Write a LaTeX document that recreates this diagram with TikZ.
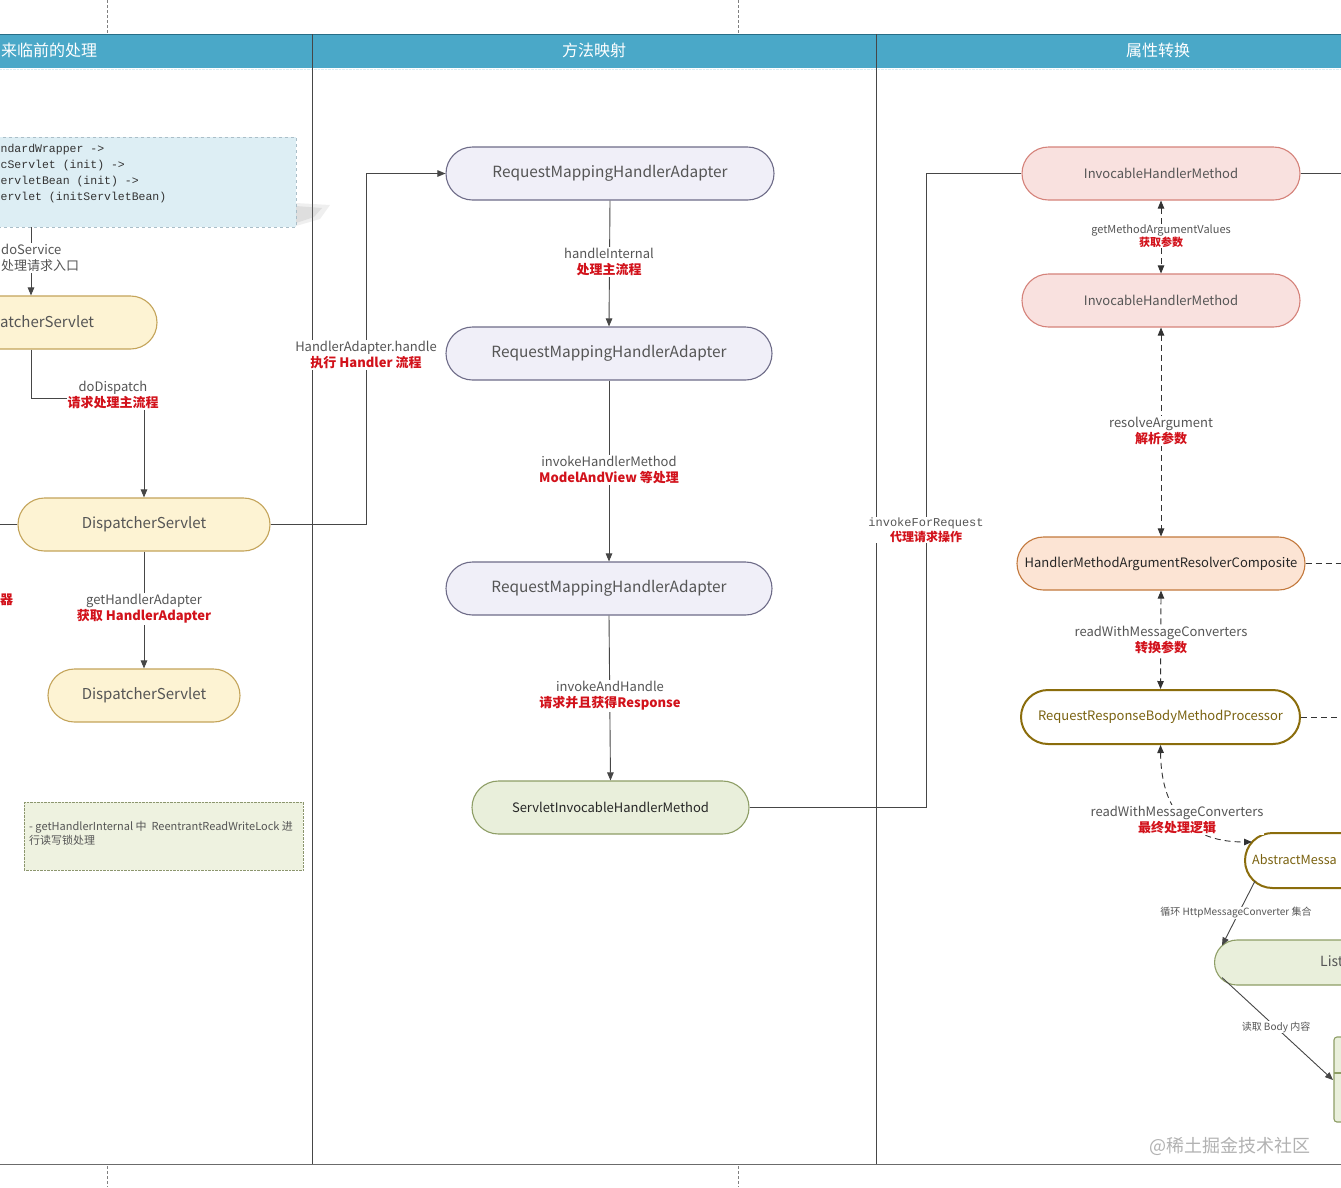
\documentclass[tikz,border=0pt]{standalone}
\usepackage{fontspec}
\setmainfont{Noto Sans CJK SC}
\setmonofont{Liberation Mono}
\usetikzlibrary{arrows.meta,calc}
\definecolor{hdr}{RGB}{74,168,200}
\definecolor{hdrline}{RGB}{40,110,135}
\definecolor{lanecol}{RGB}{70,70,70}
\definecolor{txtgray}{RGB}{85,85,85}
\definecolor{redlbl}{RGB}{210,18,27}
\definecolor{yfill}{RGB}{253,243,211}
\definecolor{ydraw}{RGB}{196,164,90}
\definecolor{lfill}{RGB}{240,239,248}
\definecolor{ldraw}{RGB}{110,108,136}
\definecolor{gfill}{RGB}{233,239,219}
\definecolor{gdraw}{RGB}{142,158,102}
\definecolor{pfill}{RGB}{249,225,223}
\definecolor{pdraw}{RGB}{213,130,122}
\definecolor{ofill}{RGB}{252,228,212}
\definecolor{odraw}{RGB}{195,121,61}
\definecolor{olive}{RGB}{139,109,12}
\definecolor{olivetxt}{RGB}{122,98,16}
\definecolor{codefill}{RGB}{221,238,244}
\definecolor{codedraw}{RGB}{170,190,200}
\definecolor{notefill}{RGB}{238,242,224}
\definecolor{notedraw}{RGB}{140,150,110}
\newcommand{\rl}[1]{{\color{redlbl}\bfseries #1}}
\tikzset{
  stad/.style={draw, line width=1.1pt, rounded corners=26.5, minimum height=53, inner sep=0pt,
    text=txtgray, font=\fontsize{15}{18}\selectfont},
  ynode/.style={stad, fill=yfill, draw=ydraw},
  lnode/.style={stad, fill=lfill, draw=ldraw, font=\fontsize{15.4}{18}\selectfont},
  gnode/.style={stad, fill=gfill, draw=gdraw, text=black!85, font=\fontsize{13}{16}\selectfont},
  pnode/.style={stad, fill=pfill, draw=pdraw, font=\fontsize{13}{16}\selectfont},
  onode/.style={stad, fill=ofill, draw=odraw, text=black!85, font=\fontsize{13}{16}\selectfont},
  rrnode/.style={stad, fill=white, draw=olive, line width=2pt, text=olivetxt, font=\fontsize{13}{16}\selectfont},
  conn/.style={draw=lanecol, line width=0.9pt},
  dconn/.style={draw=black!80, line width=0.9pt, dash pattern=on 6pt off 4pt},
  arr/.tip={Triangle[length=8pt,width=6.5pt]},
  lbl/.style={fill=white, inner sep=1pt, align=center, text=txtgray, font=\fontsize{13}{16}\selectfont},
  slbl/.style={fill=white, inner sep=1pt, align=center, text=txtgray, font=\fontsize{11}{13}\selectfont},
  tlbl/.style={fill=white, inner sep=1pt, align=center, text=txtgray, font=\fontsize{10}{12}\selectfont},
  hdrtxt/.style={text=white, font=\fontsize{16}{19}\selectfont, inner sep=0pt},
}
\begin{document}
\begin{tikzpicture}[x=1pt,y=-1pt]
\useasboundingbox (0,0) rectangle (1341,1187);
\clip (0,0) rectangle (1341,1187);
\fill[white] (0,0) rectangle (1341,1187);
% top / bottom dashed guides
\draw[gray, densely dashed] (107,0) -- (107,34) (738,0) -- (738,34);
\draw[gray, densely dashed] (107,1166) -- (107,1187) (738,1166) -- (738,1187);
% header band
\fill[hdr] (0,34) rectangle (1341,68);
\draw[hdrline, line width=0.8pt] (0,34) -- (1341,34);
\draw[white!80!hdr, densely dotted] (0,69) -- (1341,69);
\node[hdrtxt, anchor=west] (h1) at (1,50) {来临前的处理};
\node[hdrtxt] (h2) at (594,50) {方法映射};
\node[hdrtxt] (h3) at (1158,50) {属性转换};
% lane lines
\draw[lanecol, line width=0.9pt] (312,34) -- (312,1164) (876,34) -- (876,1164);
\draw[lanecol!80, line width=1pt] (0,1164) -- (1341,1164);

% ---------- lane 1 ----------
\fill[gray, opacity=0.12] (296,203) -- (330,205) -- (320,219) -- (296,226) -- cycle;
\fill[gray, opacity=0.15] (296,206) -- (322,208) -- (314,217) -- (296,223) -- cycle;
\node[draw=codedraw, fill=codefill, dashed, minimum width=310, minimum height=90, anchor=north east, inner sep=0pt] (code) at (296,137) {};
\node[anchor=west, align=left, inner sep=0pt, text=black!80, font=\ttfamily\fontsize{11.5}{16}\selectfont] (codetxt) at (0.5,174) {ndardWrapper ->\\cServlet (init) ->\\ervletBean (init) ->\\ervlet (initServletBean)};

\node[ynode, minimum width=252] (ds0) at (31,322.5) {};
\node[anchor=west, inner sep=0pt, text=txtgray, font=\fontsize{15}{18}\selectfont] (ds0t) at (0,321.5) {atcherServlet};
\node[ynode, minimum width=252] (ds1) at (144,524.5) {DispatcherServlet};
\node[ynode, minimum width=192] (ds2) at (144,695.5) {DispatcherServlet};

\draw[conn, -{arr}] (ds0.north |- code.south) -- (ds0.north);
\node[lbl, anchor=north west, align=left, inner sep=1pt] (l1) at (0,243) {doService\\处理请求入口};

\draw[conn, -{arr}] (ds0.south) -- (31,398) -| (ds1.north);
\node[lbl] (l2) at (113,395) {doDispatch\\\rl{请求处理主流程}};

\draw[conn] (ds1.west) -- ++(-30,0);
\node[lbl, fill=none, anchor=west, inner sep=0pt] (l3) at (0,600) {\rl{器}};

\draw[conn, -{arr}] (ds1.south) -- (ds2.north);
\node[lbl] (l4) at (144,609) {getHandlerAdapter\\\rl{获取 HandlerAdapter}};

\node[draw=notedraw, fill=notefill, densely dotted, minimum width=279, minimum height=68, anchor=north west, inner sep=0pt] (note) at (24,802) {};
\node[anchor=north west, align=left, inner sep=0pt, text=txtgray, font=\fontsize{11}{14}\selectfont] (notetxt) at (29,821) {- getHandlerInternal 中\ \ ReentrantReadWriteLock 进\\行读写锁处理};

% ---------- lane 2 ----------
\node[lnode, minimum width=328] (rm1) at (610,173.5) {RequestMappingHandlerAdapter};
\node[lnode, minimum width=326] (rm2) at (609,353.5) {RequestMappingHandlerAdapter};
\node[lnode, minimum width=326] (rm3) at (609,588.5) {RequestMappingHandlerAdapter};
\node[gnode, minimum width=277] (sihm) at (610.5,807.5) {ServletInvocableHandlerMethod};

\draw[conn, -{arr}] (ds1.east) -- (366,524.5) |- (rm1.west);
\node[lbl] (l5) at (366,355) {HandlerAdapter.handle\\\rl{执行 Handler 流程}};

\draw[conn, -{arr}] (rm1.south) -- (rm2.north);
\node[lbl] (l6) at (609,262) {handleInternal\\\rl{处理主流程}};
\draw[conn, -{arr}] (rm2.south) -- (rm3.north);
\node[lbl] (l7) at (609,470) {invokeHandlerMethod\\\rl{ModelAndView 等处理}};
\draw[conn, -{arr}] (rm3.south) -- (sihm.north);
\node[lbl] (l8) at (610,696) {invokeAndHandle\\\rl{请求并且获得Response}};

% ---------- lane 3 ----------
\node[pnode, minimum width=278] (ihm1) at (1161,173.5) {InvocableHandlerMethod};
\node[pnode, minimum width=278] (ihm2) at (1161,300.5) {InvocableHandlerMethod};
\node[onode, minimum width=288] (hm) at (1161,563.5) {HandlerMethodArgumentResolverComposite};
\node[rrnode, minimum width=279, minimum height=54, rounded corners=27] (rr) at (1160.5,717) {RequestResponseBodyMethodProcessor};
\node[rrnode, minimum width=300, minimum height=55, rounded corners=27.5, anchor=west] (am) at (1244,860.5) {};
\node[anchor=west, inner sep=0pt, text=olivetxt, font=\fontsize{12.6}{15}\selectfont] (amt) at (1252,860) {AbstractMessa};
\node[gnode, minimum width=300, minimum height=45, rounded corners=22.5, anchor=west] (lst) at (1214,962.5) {};
\node[anchor=west, inner sep=0pt, text=txtgray, font=\fontsize{14}{17}\selectfont] (lstt) at (1320,961.5) {List};
\draw[gdraw, fill=gfill, line width=1.1pt, rounded corners=3] (1334,1037) rectangle (1400,1122);
\draw[gdraw, line width=1.1pt] (1334,1073) -- (1400,1073);

\draw[conn] (sihm.east) -- (926,807.5) |- (ihm1.west);
\node[lbl, font=\fontsize{12}{15}\selectfont] (l9) at (926,530) {{\ttfamily invokeForRequest}\\\rl{代理请求操作}};

\draw[conn] (ihm1.east) -- ++(60,0);
\draw[dconn] (hm.east) -- ++(60,0);
\draw[dconn] (rr.east) -- ++(60,0);

\draw[dconn, {arr}-{arr}] (ihm1.south) -- (ihm2.north);
\node[slbl] (l10) at (1161,236) {getMethodArgumentValues\\\rl{获取参数}};
\draw[dconn, {arr}-{arr}] (ihm2.south) -- (hm.north);
\node[lbl] (l11) at (1161,431) {resolveArgument\\\rl{解析参数}};
\draw[dconn, {arr}-{arr}] (hm.south) -- (rr.north);
\node[lbl] (l12) at (1161,640) {readWithMessageConverters\\\rl{转换参数}};

\draw[dconn, {arr}-{arr}] (rr.south) .. controls (1161,800) and (1180,842) .. ($(am.north west)+(8,10)$);
\node[lbl] (l13) at (1177,820) {readWithMessageConverters\\\rl{最终处理逻辑}};

\draw[conn, -{arr}] ($(am.south west)+(11,-8)$) -- ($(lst.west)+(8,-17)$);
\node[tlbl] (l14) at (1236,913) {循环 HttpMessageConverter 集合};
\draw[conn, -{arr}] ($(lst.west)+(8,15)$) -- (1333,1080);
\node[tlbl] (l15) at (1276,1027) {读取 Body 内容};

\node[text=black!30, font=\fontsize{18}{22}\selectfont, inner sep=0pt] (wm) at (1230,1146) {@稀土掘金技术社区};
\end{tikzpicture}
\end{document}
